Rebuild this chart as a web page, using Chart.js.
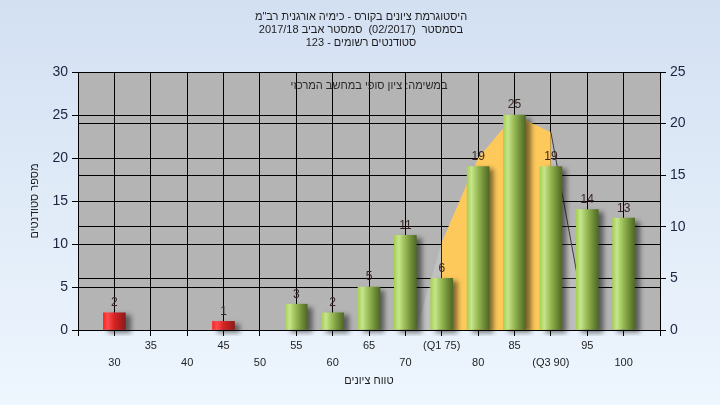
<!DOCTYPE html>
<html lang="he">
<head>
<meta charset="utf-8">
<script src="https://cdn.jsdelivr.net/npm/chart.js@4.4.0/dist/chart.umd.min.js"></script>
<style>
  html, body { margin: 0; padding: 0; background: #e4edf9; }
  #wrap { width: 720px; height: 405px; position: relative; }
</style>
</head>
<body>
<div id="wrap"><canvas id="histChart" width="720" height="405"></canvas></div>
<script>
const TITLE_LINES = [
    "היסטוגרמת ציונים בקורס - כימיה אורגנית רב\"מ",
    "בסמסטר  (02/2017)  סמסטר אביב 2017/18",
    "סטודנטים רשומים - 123",
];
const NOTE_TEXT = "במשימה: ציון סופי במחשב המרכזי";
const Y_TITLE = "מספר סטודנטים";
const X_TITLE = "טווח ציונים";

// histogram
const SCORES = [30, 35, 40, 45, 50, 55, 60, 65, 70, 75, 80, 85, 90, 95, 100];
const COUNTS = [2, 0, 0, 1, 0, 3, 2, 5, 11, 6, 19, 25, 19, 14, 13];
const PASS_MARK = 55;

// tick labels, two staggered rows
const TICKS_ROW1 = { 35: "35", 45: "45", 55: "55", 65: "65", 75: "(Q1 75)", 85: "85", 95: "95" };
const TICKS_ROW2 = { 30: "30", 40: "40", 50: "50", 60: "60", 70: "70", 80: "80", 90: "(Q3 90)", 100: "100" };

// distribution curve, quartiles
const CURVE_X = [71.5, 75, 80, 85, 90, 95];
const CURVE_Y = [0, 10.2, 20, 25, 23, 0];
const Q1 = 75, Q3 = 90;

const FONT = "'Liberation Sans', Arial, sans-serif";

const pts = (f) => CURVE_X.map((x, i) => ({ x, y: CURVE_Y[i] })).filter(p => f(p.x));

function barGradient(ctx) {
    const chart = ctx.chart;
    if (ctx.type !== "data") return "#8fb548";
    if (!ctx.raw.y) return "rgba(0,0,0,0)";
    const pass = ctx.raw.x >= PASS_MARK;
    if (!chart.chartArea) return pass ? "#8fb548" : "#d42020";
    const cx = chart.scales.x.getPixelForValue(ctx.raw.x);
    const g = chart.ctx.createLinearGradient(cx - 11, 0, cx + 11, 0);
    if (pass) {
        g.addColorStop(0, "#a6d152");
        g.addColorStop(0.2, "#c6e58e");
        g.addColorStop(0.45, "#9dbf58");
        g.addColorStop(0.75, "#718f38");
        g.addColorStop(1, "#4e6926");
    } else {
        g.addColorStop(0, "#ff2424");
        g.addColorStop(0.2, "#ff4c4c");
        g.addColorStop(0.5, "#d82222");
        g.addColorStop(1, "#8c1a1a");
    }
    return g;
}

const backdrop = {
    id: "backdrop",
    beforeDraw(chart) {
        const c = chart.ctx, a = chart.chartArea;
        const g = c.createLinearGradient(0, 0, 0, chart.height);
        g.addColorStop(0, "#d3e0f2");
        g.addColorStop(1, "#eef6fe");
        c.save();
        c.fillStyle = g;
        c.fillRect(0, 0, chart.width, chart.height);
        c.fillStyle = "#b4b4b4";
        c.fillRect(a.left, a.top, a.right - a.left, a.bottom - a.top);
        c.fillStyle = "#1e1e1e";
        c.font = "11px " + FONT;
        c.textAlign = "center";
        c.textBaseline = "middle";
        const ys = [17, 30, 43];
        TITLE_LINES.forEach((t, i) => c.fillText(t, 361, ys[i]));
        c.restore();
    },
    beforeDatasetsDraw(chart) {
        const c = chart.ctx, a = chart.chartArea;
        c.save();
        c.fillStyle = "#2a2a2a";
        c.font = "11px " + FONT;
        c.textAlign = "center";
        c.textBaseline = "middle";
        c.fillText(NOTE_TEXT, (a.left + a.right) / 2, a.top + 14);
        c.restore();
    }
};

const barShadow = {
    id: "barShadow",
    beforeDatasetDraw(chart, args) {
        if (args.meta.type !== "bar") return;
        const c = chart.ctx;
        c.save();
        c.shadowColor = "rgba(0,0,0,0.5)";
        c.shadowBlur = 5;
        c.shadowOffsetX = 5;
        c.shadowOffsetY = 3;
    },
    afterDatasetDraw(chart, args) {
        if (args.meta.type === "bar") chart.ctx.restore();
    }
};

const barValues = {
    id: "barValues",
    afterDatasetsDraw(chart) {
        const c = chart.ctx;
        chart.data.datasets.forEach((ds, di) => {
            const meta = chart.getDatasetMeta(di);
            if (meta.type !== "bar") return;
            c.save();
            c.font = "12px " + FONT;
            c.fillStyle = "#3a2424";
            c.textAlign = "center";
            c.textBaseline = "bottom";
            meta.data.forEach((el, i) => {
                if (!COUNTS[i]) return;
                c.fillText(String(COUNTS[i]), el.x, el.y - 4);
            });
            c.restore();
        });
    }
};

new Chart(document.getElementById("histChart"), {
    type: "bar",
    data: {
        datasets: [
            {
                type: "bar",
                data: SCORES.map((s, i) => ({ x: s, y: COUNTS[i] })),
                backgroundColor: barGradient,
                barThickness: 22,
                borderWidth: 0,
                yAxisID: "y",
                order: 1,
                clip: { left: 5, right: 10, top: 5, bottom: 6 },
            },
            {
                type: "line",
                data: pts(x => x >= Q1 && x <= Q3),
                backgroundColor: "#fdc95a",
                borderWidth: 0,
                pointRadius: 0,
                fill: "origin",
                yAxisID: "y",
                order: 3,
            },
            {
                type: "line",
                data: pts(x => x <= Q1),
                backgroundColor: "rgba(255,255,255,0.18)",
                borderWidth: 0,
                pointRadius: 0,
                fill: "origin",
                yAxisID: "y",
                order: 4,
            },
            {
                type: "line",
                data: pts(x => x >= Q3),
                backgroundColor: "rgba(255,255,255,0.12)",
                borderColor: "#3c3c3c",
                borderWidth: 1,
                pointRadius: 0,
                fill: "origin",
                yAxisID: "y",
                order: 2,
            },
        ],
    },
    options: {
        responsive: false,
        animation: false,
        layout: { padding: { top: 72, left: 0, right: 0, bottom: 0 } },
        plugins: {
            legend: { display: false },
            title: { display: false },
            tooltip: { enabled: false },
        },
        scales: {
            x: {
                type: "linear",
                min: 25,
                max: 105,
                offset: false,
                afterFit: (s) => { s.height = 75; },
                ticks: {
                    stepSize: 5,
                    autoSkip: false,
                    maxRotation: 0,
                    padding: 1,
                    color: "#1e1e1e",
                    font: { family: FONT, size: 11, lineHeight: 1.55 },
                    callback: (v) => [TICKS_ROW1[v] || "", TICKS_ROW2[v] || ""],
                },
                grid: { offset: false, color: "#000", lineWidth: 1, tickLength: 6, tickColor: "#000" },
                border: { color: "#000" },
                title: {
                    display: true,
                    text: X_TITLE,
                    color: "#1e1e1e",
                    font: { family: FONT, size: 11 },
                    padding: { top: 0, bottom: 17 },
                },
            },
            y: {
                position: "left",
                min: 0,
                max: 30,
                afterFit: (s) => { s.width = 78; },
                ticks: {
                    stepSize: 5,
                    padding: 4,
                    color: "#1c2340",
                    font: { family: FONT, size: 14 },
                },
                grid: { color: "#000", lineWidth: 1, tickLength: 6, tickColor: "#000" },
                border: { color: "#000" },
                title: {
                    display: true,
                    text: Y_TITLE,
                    color: "#1e1e1e",
                    font: { family: FONT, size: 11 },
                    padding: { top: 28, bottom: 0 },
                },
            },
            y1: {
                position: "right",
                min: 0,
                max: 25,
                afterFit: (s) => { s.width = 60; },
                ticks: {
                    stepSize: 5,
                    padding: 4,
                    color: "#1c2340",
                    font: { family: FONT, size: 14 },
                },
                grid: { color: "#000", lineWidth: 1, tickLength: 6, tickColor: "#000" },
                border: { color: "#000" },
            },
        },
    },
    plugins: [backdrop, barShadow, barValues],
});
</script>
</body>
</html>
